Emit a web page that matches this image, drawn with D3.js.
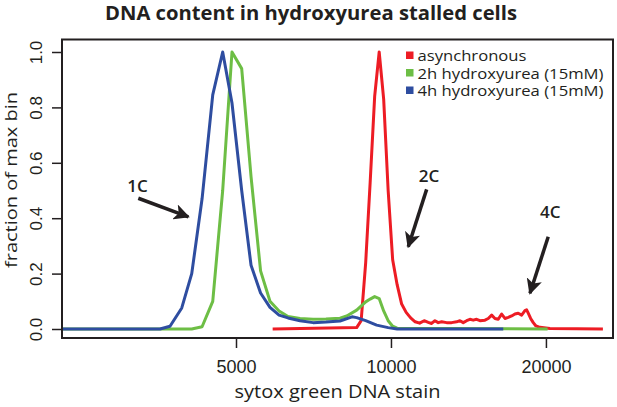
<!DOCTYPE html>
<meta charset="utf-8">
<style>
  body { margin: 0; background: #fff; }
  svg { font-family: "Open Sans", sans-serif; }
  .axis text { fill: #231f20; }
  .axis line { stroke: #231f20; stroke-width: 1.5px; }
  .axis path { display: none; }
  .series { fill: none; stroke-width: 3px; stroke-linejoin: round; stroke-linecap: butt; }
  .legend text { font-size: 14px; fill: #231f20; }
  .note { font-size: 17px; font-weight: 600; fill: #231f20; }
</style>
<body>
<script src="https://d3js.org/d3.v7.min.js"></script>
<script>

// sytox green intensity (x) and fraction of max bin (y)
var asyncX = [5891, 8578, 8752, 8931, 9112, 9297, 9487, 9679, 9875, 10076, 10280, 10490, 10703, 10920, 11142,
              11368, 11601, 11815, 11995, 12174, 12355, 12545, 12828, 13118, 13414, 13614, 13817, 14028, 14235,
              14447, 14668, 14889, 15227, 15453, 15690, 15922, 16159, 16406, 16651, 16898, 17157, 17412, 17670,
              17940, 18207, 18346, 18478, 18678, 18898, 19126, 19473, 20362, 25805];
var asyncY = [0, 0.005, 0.03, 0.24, 0.53, 0.84, 1.0, 0.83, 0.50, 0.25, 0.16, 0.09, 0.06, 0.04, 0.026,
              0.021, 0.03, 0.024, 0.02, 0.03, 0.023, 0.026, 0.023, 0.023, 0.026, 0.03, 0.023, 0.03, 0.035,
              0.032, 0.035, 0.03, 0.032, 0.038, 0.05, 0.038, 0.035, 0.054, 0.038, 0.042, 0.047, 0.054, 0.057,
              0.05, 0.066, 0.069, 0.057, 0.038, 0.023, 0.011, 0.006, 0.002, 0];

var hu2X = [2301, 4102, 4296, 4506, 4711, 4911, 5129, 5348, 5581, 5821, 6062, 6310, 6658, 7057, 7477,
            7962, 8204, 8578, 8931, 9112, 9297, 9487, 9679, 9875, 10076, 10280, 20150];
var hu2Y = [0, 0, 0.008, 0.10, 0.50, 1.0, 0.94, 0.55, 0.21, 0.10, 0.065, 0.045, 0.038, 0.035, 0.036,
            0.039, 0.047, 0.068, 0.098, 0.108, 0.117, 0.11, 0.065, 0.03, 0.01, 0.003, 0];

var hu4X = [2301, 3559, 3722, 3923, 4102, 4296, 4506, 4711, 4911, 5129, 5348, 5581, 5821, 6062, 6310,
            6658, 7057, 7477, 7962, 8401, 8578, 8931, 9380, 9875, 10280, 16525];
var hu4Y = [0, 0, 0.01, 0.076, 0.20, 0.47, 0.845, 1.0, 0.816, 0.50, 0.23, 0.13, 0.078, 0.05, 0.04,
            0.03, 0.023, 0.025, 0.029, 0.044, 0.041, 0.03, 0.014, 0.005, 0, 0];

var legendLabels = ["asynchronous", "2h hydroxyurea (15mM)", "4h hydroxyurea (15mM)"];
var legendWidths = [109, 186, 186];
var colors = ["#ed1c24", "#6dbe45", "#2e4da0"];

var xTicks = [5000, 10000, 20000];
var yTicks = [0, 0.2, 0.4, 0.6, 0.8, 1.0];

// ploidy annotations: label position and arrow from -> to, in data units
var noteLabels = ["1C", "2C", "4C"];
var noteX = [3219, 11852, 20400];
var noteY = [0.496, 0.532, 0.40];
var arrowX0 = [3230, 11730, 20206], arrowY0 = [0.472, 0.504, 0.333];
var arrowX1 = [4040, 10804, 18620], arrowY1 = [0.405, 0.297, 0.129];

var width = 617, height = 407;
var box = {left: 62, right: 613, top: 39.5, bottom: 338};

var svg = d3.select("body").append("svg")
    .attr("width", width)
    .attr("height", height);

var x = d3.scaleLog().domain([2296, 26997]).range([box.left, box.right]);
var y = d3.scaleLinear().domain([0, 1]).range([329, 52]);

var line = d3.line()
    .x(function(d) { return x(d[0]); })
    .y(function(d) { return y(d[1]); });

var series = [d3.zip(asyncX, asyncY), d3.zip(hu2X, hu2Y), d3.zip(hu4X, hu4Y)];

svg.append("g").selectAll("path")
    .data(series)
  .enter().append("path")
    .attr("class", "series")
    .attr("stroke", function(d, i) { return colors[i]; })
    .attr("d", line);

// frame
svg.append("rect")
    .attr("x", box.left).attr("y", box.top)
    .attr("width", box.right - box.left).attr("height", box.bottom - box.top)
    .attr("fill", "none").attr("stroke", "#231f20").attr("stroke-width", 2);

// x axis
var xAxis = svg.append("g")
    .attr("class", "axis")
    .attr("transform", "translate(0," + box.bottom + ")")
    .call(d3.axisBottom(x).tickValues(xTicks).tickFormat(d3.format("d")).tickSize(10).tickPadding(12));
xAxis.selectAll("text").attr("font-size", 18);

// y axis, labels parallel to the axis as in R
var yAxis = svg.append("g")
    .attr("class", "axis")
    .attr("transform", "translate(" + box.left + ",0)")
    .call(d3.axisLeft(y).tickValues(yTicks).tickFormat(d3.format(".1f")).tickSize(10));
yAxis.selectAll("text")
    .attr("x", null).attr("dy", null)
    .attr("font-size", 17)
    .attr("text-anchor", "middle")
    .attr("transform", "translate(-20,0) rotate(-90)");

// titles
svg.append("text")
    .attr("x", 311).attr("y", 20)
    .attr("text-anchor", "middle")
    .attr("font-size", 20).attr("font-weight", 700).attr("fill", "#231f20")
    .attr("textLength", 412).attr("lengthAdjust", "spacingAndGlyphs")
    .text("DNA content in hydroxyurea stalled cells");

svg.append("text")
    .attr("x", (box.left + box.right) / 2).attr("y", 398)
    .attr("text-anchor", "middle")
    .attr("font-size", 19).attr("fill", "#231f20")
    .attr("textLength", 206).attr("lengthAdjust", "spacingAndGlyphs")
    .text("sytox green DNA stain");

svg.append("text")
    .attr("transform", "translate(17,180) rotate(-90)")
    .attr("text-anchor", "middle")
    .attr("font-size", 17).attr("fill", "#231f20")
    .attr("textLength", 176).attr("lengthAdjust", "spacingAndGlyphs")
    .text("fraction of max bin");

// legend
var legend = svg.append("g").attr("class", "legend")
    .attr("transform", "translate(406,51.5)");
var item = legend.selectAll("g")
    .data(legendLabels)
  .enter().append("g")
    .attr("transform", function(d, i) { return "translate(0," + i * 17.5 + ")"; });
item.append("rect")
    .attr("width", 7.5).attr("height", 7.5)
    .attr("fill", function(d, i) { return colors[i]; });
item.append("text")
    .attr("x", 11.5).attr("y", 9.5)
    .attr("textLength", function(d, i) { return legendWidths[i]; })
    .attr("lengthAdjust", "spacingAndGlyphs")
    .text(function(d) { return d; });

// arrows
svg.append("defs").append("marker")
    .attr("id", "head")
    .attr("viewBox", "0 0 10 10")
    .attr("refX", 9).attr("refY", 5)
    .attr("markerWidth", 4.5).attr("markerHeight", 4.5)
    .attr("orient", "auto")
  .append("path")
    .attr("d", "M0,0L10,5L0,10L2.5,5Z")
    .attr("fill", "#231f20");

var notes = svg.append("g");
noteLabels.forEach(function(t, i) {
  notes.append("text")
      .attr("class", "note")
      .attr("x", x(noteX[i])).attr("y", y(noteY[i]))
      .attr("text-anchor", "middle")
      .text(t);
  notes.append("line")
      .attr("x1", x(arrowX0[i])).attr("y1", y(arrowY0[i]))
      .attr("x2", x(arrowX1[i])).attr("y2", y(arrowY1[i]))
      .attr("stroke", "#231f20").attr("stroke-width", 3.5)
      .attr("marker-end", "url(#head)");
});

</script>
